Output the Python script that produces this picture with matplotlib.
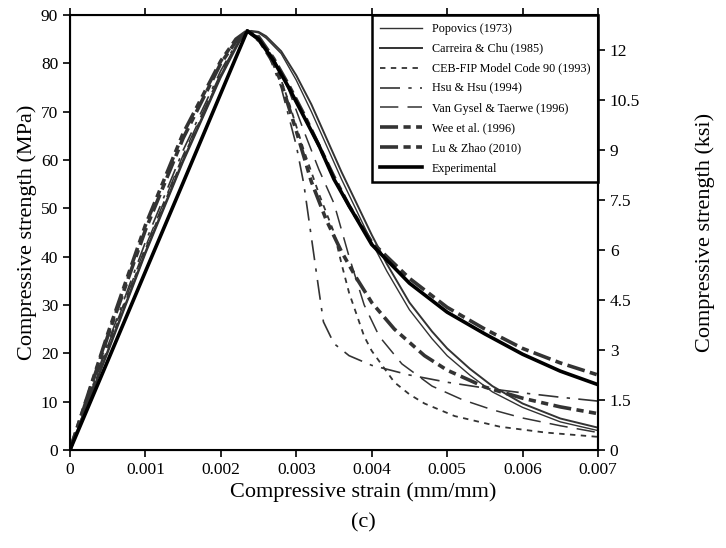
import numpy as np
import matplotlib
matplotlib.use('Agg')
import matplotlib.pyplot as plt

plt.rcParams['font.family'] = ['Liberation Serif', 'DejaVu Serif']

# strain (mm/mm) and stress (MPa), one pair of lists per curve
popovics_e = [0, 0.0005, 0.001, 0.0015, 0.002, 0.0022, 0.0023, 0.0024, 0.0025, 0.0026, 0.0028,
              0.003, 0.0032, 0.0034, 0.0036, 0.0038, 0.004, 0.0042, 0.0045, 0.0048, 0.005,
              0.0053, 0.0056, 0.006, 0.0065, 0.007]
popovics_s = [0, 20, 40.5, 59.5, 77, 83, 85.8, 86.6, 86.3, 85.2, 82,
              76.5, 70, 63, 56, 49.5, 43, 37, 29, 23, 19.5,
              15.5, 12, 8.8, 5.8, 4.0]

carreira_e = [0, 0.0005, 0.001, 0.0015, 0.002, 0.0022, 0.0023, 0.0024, 0.0025, 0.0026, 0.0028,
              0.003, 0.0032, 0.0034, 0.0036, 0.0038, 0.004, 0.0042, 0.0045, 0.0048, 0.005,
              0.0053, 0.0056, 0.006, 0.0065, 0.007]
carreira_s = [0, 20.5, 41, 60, 77.5, 83.5, 86, 86.7, 86.5, 85.6, 82.5,
              77.5, 71.5, 64.5, 57.5, 51, 44.5, 38.5, 30.5, 24.5, 21,
              16.8, 13.2, 9.6, 6.5, 4.6]

ceb_e = [0, 0.0005, 0.001, 0.0015, 0.002, 0.0022, 0.00235, 0.0025, 0.0027, 0.0029, 0.0031,
         0.0033, 0.0035, 0.0036, 0.0037, 0.0038, 0.0039, 0.004, 0.0043, 0.0045, 0.0047,
         0.0051, 0.0057, 0.0063, 0.007]
ceb_s = [0, 21, 41.5, 60.5, 77.5, 83.5, 86.7, 85.5, 81, 72, 62,
         53, 45, 38.5, 32.5, 28, 23.5, 20.5, 14, 11.5, 9.6,
         7, 4.8, 3.6, 2.7]

hsu_e = [0, 0.0005, 0.001, 0.0015, 0.002, 0.0022, 0.00235, 0.0026, 0.0028, 0.003, 0.0031,
         0.0032, 0.0033, 0.00336, 0.0035, 0.0037, 0.004, 0.0045, 0.005, 0.0055, 0.006,
         0.0065, 0.007]
hsu_s = [0, 22, 43, 62, 78.5, 84, 86.7, 83, 75, 63, 55,
         44, 33, 26.5, 22, 19.5, 17.5, 15.5, 14, 12.8, 11.8,
         10.9, 10.1]

vangysel_e = [0, 0.0005, 0.001, 0.0015, 0.002, 0.0022, 0.00235, 0.0025, 0.0027, 0.0029, 0.0031,
              0.0033, 0.0035, 0.0037, 0.0039, 0.0041, 0.0044, 0.0048, 0.0052, 0.0056, 0.006,
              0.0065, 0.007]
vangysel_s = [0, 21.5, 42, 61, 78, 83.7, 86.7, 85.5, 81, 74.5, 66,
              58, 51, 40, 30, 23.5, 17.8, 13.2, 10.4, 8.3, 6.6,
              5, 3.6]

wee_e = [0, 0.0005, 0.001, 0.0015, 0.002, 0.0022, 0.00235, 0.0025, 0.0027, 0.0029, 0.0031,
         0.0033, 0.0035, 0.0037, 0.004, 0.0045, 0.005, 0.0055, 0.006, 0.0065, 0.007]
wee_s = [0, 23.5, 45.5, 64.5, 80, 84.5, 86.7, 85.5, 81, 75.5, 69.5,
         63, 56.5, 50.5, 43, 35.5, 29.5, 25, 21, 18, 15.5]

luzhao_e = [0, 0.0005, 0.001, 0.0015, 0.002, 0.0022, 0.00235, 0.0025, 0.0027, 0.0028, 0.003,
            0.0032, 0.0034, 0.0036, 0.0038, 0.004, 0.0043, 0.0047, 0.005, 0.0055, 0.006,
            0.0065, 0.007]
luzhao_s = [0, 24, 46.5, 65.5, 80.5, 85, 86.7, 85, 80, 76, 66,
            55.5, 47.5, 41, 35.5, 30.5, 25, 19.5, 16.5, 13, 10.7,
            8.9, 7.5]

exp_e = [0, 0.0005, 0.001, 0.0015, 0.002, 0.0022, 0.00235, 0.0025, 0.0027, 0.0029, 0.0031,
         0.0033, 0.0035, 0.0037, 0.004, 0.0045, 0.005, 0.0055, 0.006, 0.0065, 0.007]
exp_s = [0, 18.4, 36.9, 55.3, 73.8, 81.2, 86.7, 85, 80.5, 75, 69,
         63, 56, 50.5, 42.5, 34.5, 28.5, 24, 19.8, 16.3, 13.5]

labels = ['Popovics (1973)', 'Carreira & Chu (1985)', 'CEB-FIP Model Code 90 (1993)',
          'Hsu & Hsu (1994)', 'Van Gysel & Taerwe (1996)', 'Wee et al. (1996)',
          'Lu & Zhao (2010)', 'Experimental']

MPA_PER_KSI = 6.895
ksi_ticks = [0, 1.5, 3, 4.5, 6, 7.5, 9, 10.5, 12]

fig = plt.figure(figsize=(7.26, 5.48), dpi=100)
ax = fig.add_axes([0.0964, 0.179, 0.7273, 0.7937])

gray = '#333333'
ax.plot(popovics_e, popovics_s, color=gray, lw=1.0, label=labels[0])
ax.plot(carreira_e, carreira_s, color=gray, lw=1.4, label=labels[1])
ax.plot(ceb_e, ceb_s, color=gray, lw=1.3, dashes=(3, 3), label=labels[2])
ax.plot(hsu_e, hsu_s, color=gray, lw=1.2, dashes=(12, 5, 2, 5), label=labels[3])
ax.plot(vangysel_e, vangysel_s, color=gray, lw=1.1, dashes=(12, 6), label=labels[4])
ax.plot(wee_e, wee_s, color=gray, lw=2.6, dashes=(5, 1.5, 2, 1.5), label=labels[5])
ax.plot(luzhao_e, luzhao_s, color=gray, lw=2.6, dashes=(5, 1.5, 2, 1.5, 2, 1.5), label=labels[6])
ax.plot(exp_e, exp_s, color='black', lw=2.6, label=labels[7])

ax.set_xlim(0, 0.007)
ax.set_ylim(0, 90)
ax.set_xticks(np.arange(0, 0.0071, 0.001))
ax.set_xticklabels(['0', '0.001', '0.002', '0.003', '0.004', '0.005', '0.006', '0.007'])
ax.set_yticks(np.arange(0, 91, 10))
ax.tick_params(direction='out', length=5, width=1.2, labelsize=12.5, top=True, labeltop=False)
for sp in ax.spines.values():
    sp.set_linewidth(1.5)
ax.set_xlabel('Compressive strain (mm/mm)', fontsize=16)
ax.xaxis.set_label_coords(0.555, -0.075)
ax.set_ylabel('Compressive strength (MPa)', fontsize=16, labelpad=3)

ax2 = ax.twinx()
ax2.set_ylim(0, 90 / MPA_PER_KSI)
ax2.set_yticks(ksi_ticks)
ax2.set_yticklabels(['0', '1.5', '3', '4.5', '6', '7.5', '9', '10.5', '12'])
ax2.tick_params(direction='out', length=5, width=1.2, labelsize=12.5)
ax2.spines['right'].set_linewidth(1.5)
ax2.set_ylabel('Compressive strength (ksi)', fontsize=16, labelpad=40)

leg = ax.legend(loc='upper right', borderaxespad=0, fontsize=8.7, handlelength=3.5,
                labelspacing=0.66, handletextpad=0.8, borderpad=0.65, fancybox=False,
                framealpha=1)
leg.get_frame().set_edgecolor('black')
leg.get_frame().set_linewidth(1.8)

fig.text(0.5, 0.046, '(c)', ha='center', va='center', fontsize=16)

fig.savefig('out.png', dpi=100)
